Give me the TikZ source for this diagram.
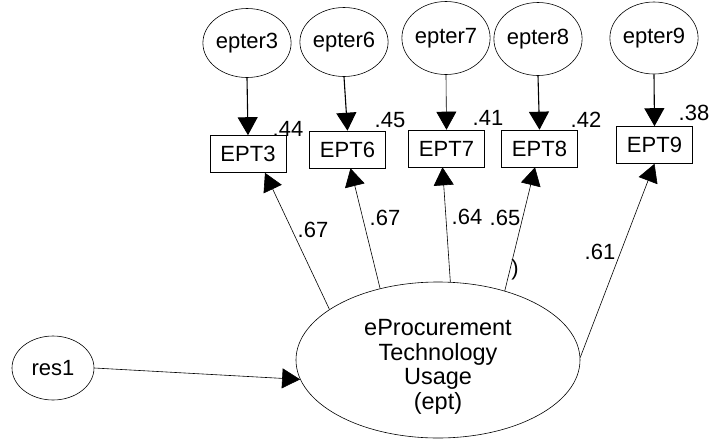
\documentclass[tikz,border=0pt]{standalone}
\usepackage{fontspec}
\setmainfont{Liberation Sans}
\usetikzlibrary{shapes.geometric,arrows.meta}
\begin{document}
\begin{tikzpicture}[x=1pt,y=-1pt,
  font=\fontsize{22}{24.5}\selectfont,
  errnode/.style={draw,ellipse,line width=0.6pt,inner sep=0pt,minimum width=79pt,minimum height=69pt},
  obsbox/.style={draw,rectangle,line width=0.6pt,inner sep=0pt,minimum width=76pt,minimum height=37pt},
  bigell/.style={draw,ellipse,line width=0.6pt,inner sep=0pt,minimum width=284pt,minimum height=156pt,align=center,font=\fontsize{23.5}{24.5}\selectfont},
  lbl/.style={inner sep=0pt},
  thickarr/.style={line width=1.1pt,-{Triangle[width=20pt,length=18pt]}},
  thinarr/.style={line width=0.6pt,-{Triangle[width=20pt,length=18pt]}}]
\useasboundingbox (0,0) rectangle (713,440);
% error terms
\node[errnode] (e3) at (247,43) {epter3};
\node[errnode,minimum width=73pt] (e6) at (344,42) {epter6};
\node[errnode,minimum width=81pt,minimum height=73pt] (e7) at (446,38) {epter7};
\node[errnode,minimum height=73pt] (e8) at (538,39) {epter8};
\node[errnode,minimum width=81pt,minimum height=72pt] (e9) at (654,38) {epter9};
% observed variables
\node[obsbox] (b3) at (248,154) {EPT3};
\node[obsbox] (b6) at (347.5,149.5) {EPT6};
\node[obsbox] (b7) at (446.5,148.5) {EPT7};
\node[obsbox] (b8) at (539.5,148.5) {EPT8};
\node[obsbox] (b9) at (654.5,145) {EPT9};
% latent
\node[bigell] (ept) at (438,360) {\rule{0pt}{30pt}eProcurement\\Technology\\Usage\\(ept)};
\node[errnode,minimum width=82pt,minimum height=64pt] (r1) at (53,368) {res1};
% error arrows
\draw[thickarr] (e3.south) -- (b3.north);
\draw[thickarr] (e6.south) -- (b6.north);
\draw[thinarr] (e7.south) -- (b7.north);
\draw[thickarr] (e8.south) -- (b8.north);
\draw[thickarr] (e9.south) -- (b9.north);
% loadings
\draw[thinarr] (ept.155) -- ([xshift=17pt]b3.south);
\draw[thinarr] (ept.129) -- ([xshift=3pt]b6.south);
\draw[thinarr] (ept.81) -- ([xshift=-4pt]b7.south);
\draw[thinarr] (ept.46) -- ([xshift=-4.5pt]b8.south);
\draw[thinarr] (ept.1) -- (b9.south);
\draw[thinarr] (r1.east) -- (ept.188);
% R-squared labels
\node[lbl] (r3) at (288,129) {.44};
\node[lbl] (r6) at (390,120) {.45};
\node[lbl] (r7) at (488,118) {.41};
\node[lbl] (r8) at (586,120) {.42};
\node[lbl] (r9) at (694,113) {.38};
% loading labels
\node[lbl] (l3) at (313,230) {.67};
\node[lbl] (l6) at (385,218) {.67};
\node[lbl] (l7) at (467,217) {.64};
\node[lbl] (l8) at (505,218) {.65};
\node[lbl] (l9) at (600,252) {.61};
\node[lbl] (pr) at (515,270) {)};
\end{tikzpicture}
\end{document}
